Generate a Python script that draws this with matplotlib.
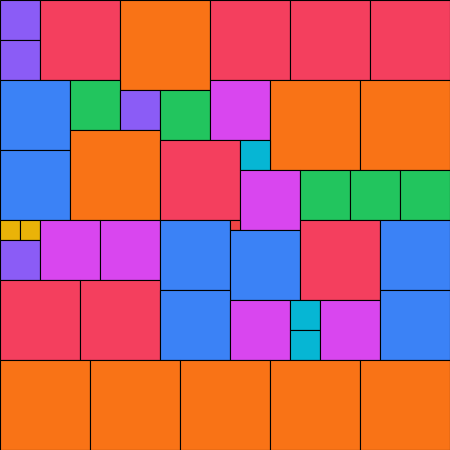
import matplotlib
matplotlib.use("Agg")
import matplotlib.pyplot as plt
from matplotlib.patches import Rectangle

# square positions (left, top) and side lengths, in chart units
xs = [0, 0, 40, 120, 210, 290, 370,
      0, 70, 120, 160, 210, 270, 360,
      0, 70, 160, 240, 240, 300, 350, 400,
      0, 20, 0, 40, 100, 160, 230, 230, 300, 380,
      0, 80, 160, 230, 290, 290, 320, 380,
      0, 90, 180, 270, 360]
ys = [0, 40, 0, 0, 0, 0, 0,
      80, 80, 90, 90, 80, 80, 80,
      150, 130, 140, 140, 170, 170, 170, 170,
      220, 220, 240, 220, 220, 220, 220, 230, 220, 220,
      280, 280, 290, 300, 300, 330, 300, 290,
      360, 360, 360, 360, 360]
sizes = [40, 40, 80, 90, 80, 80, 80,
         70, 50, 40, 50, 60, 90, 90,
         70, 90, 80, 30, 60, 50, 50, 50,
         20, 20, 40, 60, 60, 70, 10, 70, 80, 70,
         80, 80, 70, 60, 30, 30, 60, 70,
         90, 90, 90, 90, 90]

size_colors = {10: "#ef4444", 20: "#eab308", 30: "#06b6d4", 40: "#8b5cf6",
               50: "#22c55e", 60: "#d946ef", 70: "#3b82f6", 80: "#f43f5e",
               90: "#f97316"}

fig = plt.figure(figsize=(4.5, 4.5), dpi=100)
ax = fig.add_axes([0, 0, 1, 1])
for x, y, s in zip(xs, ys, sizes):
    ax.add_patch(Rectangle((x, y), s, s, facecolor=size_colors[s],
                           edgecolor="black", linewidth=0.8))
ax.set_xlim(0, 450)
ax.set_ylim(450, 0)
ax.axis("off")
fig.savefig("out.png", dpi=100)
